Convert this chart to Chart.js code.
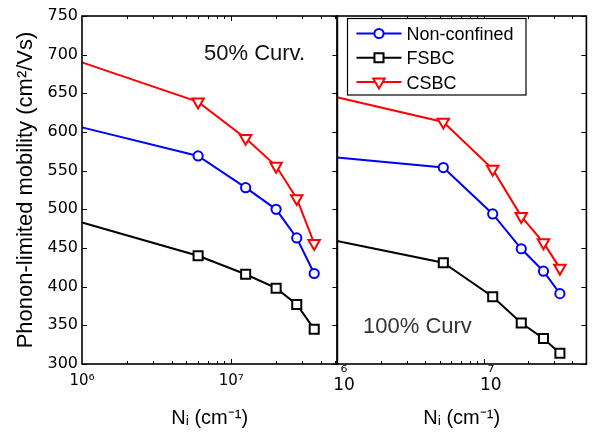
<!DOCTYPE html>
<html><head><meta charset="utf-8">
<script src="https://cdn.jsdelivr.net/npm/chart.js@4.4.1/dist/chart.umd.min.js"></script>
<style>
html,body{margin:0;padding:0;background:#fff;width:595px;height:435px;overflow:hidden}
canvas{position:absolute;top:0}
</style></head>
<body>
<canvas id="left" width="346" height="435" style="left:0"></canvas>
<canvas id="right" width="295" height="435" style="left:300px"></canvas>
<script>
// ---- data ----
const seriesNames = ['Non-confined', 'FSBC', 'CSBC'];
const xLeft = [1e6, 6.0e6, 1.25e7, 2.0e7, 2.75e7, 3.6e7];
const nonConfinedLeft = [606, 569, 528, 500, 463, 417];
const fsbcLeft = [483, 440, 416, 398, 377, 345];
const csbcLeft = [690, 639, 592, 556, 514, 456];
const xRight = [1e6, 5.3e6, 1.15e7, 1.8e7, 2.55e7, 3.3e7];
const nonConfinedRight = [567, 554, 494, 449, 420, 391];
const fsbcRight = [459, 431, 387, 353, 333, 314];
const csbcRight = [645, 613, 552, 491, 457, 424];
const yTickValues = [300, 350, 400, 450, 500, 550, 600, 650, 700, 750];
const xTickValues = [1e6, 2e6, 3e6, 4e6, 5e6, 6e6, 7e6, 8e6, 9e6, 1e7, 2e7, 3e7, 4e7, 5e7];
const xMajorTicks = [1e6, 1e7];
const xMajorLabelsLeft = ['10\u2076', '10\u2077'];
const xMajorLabelsRight = [['\u2076', '10'], ['\u2077', '10']];
const panelTitles = ['50% Curv.', '100% Curv'];
const yTitle = 'Phonon-limited mobility (cm\u00B2/Vs)';
const xTitle = 'N\u1D62 (cm\u207B\u00B9)';

// ---- styles ----
const colors = ['#0000ff', '#000000', '#ff0000'];
const markers = ['circle', 'rect', 'triangle'];
const radii = [4.6, 6.4, 6.6];
const rotations = [0, 0, 180];

Chart.defaults.color = '#000';
Chart.defaults.font.family = 'Liberation Sans, Arial, sans-serif';

function makeDatasets(xs, seriesList) {
  return seriesList.map((ys, i) => ({
    label: seriesNames[i],
    data: xs.map((x, k) => ({x: x, y: ys[k]})),
    borderColor: colors[i],
    backgroundColor: colors[i],
    borderWidth: 2,
    pointStyle: markers[i],
    pointRadius: xs.map((x, k) => k === 0 ? 0 : radii[i]),
    pointRotation: rotations[i],
    pointBorderWidth: 2,
    pointBorderColor: colors[i],
    pointBackgroundColor: '#ffffff',
    tension: 0,
    clip: false
  }));
}

const isMajor = v => xMajorTicks.some(m => Math.abs(m - v) / m < 1e-6);

const framePlugin = {
  id: 'frame',
  afterDatasetsDraw(chart, args, opts) {
    const {ctx, chartArea: a, scales} = chart;
    ctx.save();
    ctx.strokeStyle = '#000';
    ctx.lineWidth = 1;
    const seg = (x1, y1, x2, y2) => { ctx.beginPath(); ctx.moveTo(x1, y1); ctx.lineTo(x2, y2); ctx.stroke(); };
    scales.y.ticks.forEach(t => {
      const py = Math.round(scales.y.getPixelForValue(t.value)) + 0.5;
      if (opts.leftTicks) seg(a.left, py, a.left + 5, py);
      seg(a.right - 5, py, a.right, py);
    });
    scales.x.ticks.forEach(t => {
      const px = Math.round(scales.x.getPixelForValue(t.value)) + 0.5;
      if (px <= a.left + 1 || px >= a.right - 1) return;
      const len = isMajor(t.value) ? 5 : 3;
      seg(px, a.bottom, px, a.bottom - len);
      seg(px, a.top, px, a.top + len);
    });
    ctx.lineWidth = 1.6;
    ctx.strokeRect(a.left, a.top, a.right - a.left, a.bottom - a.top);
    // panel annotation
    ctx.fillStyle = opts.textColor || '#000';
    ctx.font = '22px "Liberation Sans", Arial, sans-serif';
    ctx.textBaseline = 'alphabetic';
    ctx.textAlign = 'left';
    ctx.fillText(opts.title, a.left + opts.titleDx, a.top + opts.titleDy);
    ctx.restore();
  }
};

const legendPlugin = {
  id: 'boxLegend',
  afterDraw(chart, args, opts) {
    if (!opts.show) return;
    const {ctx, chartArea: a} = chart;
    const bx = a.left + 10.5, by = a.top + 2.5, bw = 178.5, bh = 76.5;
    ctx.save();
    ctx.fillStyle = '#fff';
    ctx.fillRect(bx, by, bw, bh);
    ctx.strokeStyle = '#000';
    ctx.lineWidth = 1.2;
    ctx.strokeRect(bx, by, bw, bh);
    chart.data.datasets.forEach((ds, i) => {
      const y = by + 15 + i * 24.2;
      ctx.strokeStyle = ds.borderColor;
      ctx.lineWidth = 2;
      ctx.beginPath(); ctx.moveTo(bx + 9, y); ctx.lineTo(bx + 54, y); ctx.stroke();
      ctx.fillStyle = '#fff';
      ctx.strokeStyle = ds.borderColor;
      Chart.helpers.drawPoint(ctx, {pointStyle: ds.pointStyle, radius: radii[i], rotation: ds.pointRotation, borderWidth: 2}, bx + 31.5, y);
      ctx.fillStyle = '#000';
      ctx.font = '18px "Liberation Sans", Arial, sans-serif';
      ctx.textBaseline = 'alphabetic';
      ctx.textAlign = 'left';
      ctx.fillText(ds.label, bx + 59, y + 6.6);
    });
    ctx.restore();
  }
};

function makeChart(id, xs, seriesList, side) {
  const isLeft = side === 'left';
  return new Chart(document.getElementById(id), {
    type: 'line',
    data: {datasets: makeDatasets(xs, seriesList)},
    plugins: [framePlugin, legendPlugin],
    options: {
      responsive: false,
      animation: false,
      events: [],
      layout: {padding: {top: 16, right: isLeft ? 1 : 7, bottom: 0, left: 0}},
      plugins: {
        legend: {display: false},
        tooltip: {enabled: false},
        frame: {
          leftTicks: isLeft,
          title: isLeft ? panelTitles[0] : panelTitles[1],
          titleDx: isLeft ? 122 : 26,
          titleDy: isLeft ? 44 : 317,
          textColor: isLeft ? '#111' : '#333'
        },
        boxLegend: {show: !isLeft}
      },
      scales: {
        x: {
          type: 'logarithmic',
          min: 1e6,
          max: isLeft ? 5.15e7 : 5e7,
          grid: {display: false, drawTicks: false},
          border: {display: false},
          afterBuildTicks: s => { s.ticks = xTickValues.map(v => ({value: v})); },
          afterFit: s => { s.height = 71; },
          ticks: {
            autoSkip: false,
            maxRotation: 0,
            minRotation: 0,
            padding: isLeft ? 8 : 4,
            labelOffset: isLeft ? 0 : 7,
            font: isLeft ? {family: 'DejaVu Sans', size: 15, lineHeight: 1.2}
                         : {family: 'DejaVu Sans', size: 17, lineHeight: 0.7},
            callback: (v) => {
              const k = xMajorTicks.findIndex(m => Math.abs(m - v) / m < 1e-6);
              if (k < 0) return '';
              return isLeft ? xMajorLabelsLeft[k] : xMajorLabelsRight[k];
            }
          },
          title: {
            display: true,
            text: xTitle,
            font: {size: 20},
            padding: {top: 0, bottom: 5}
          }
        },
        y: {
          min: 300,
          max: 750,
          grid: {display: false, drawTicks: false},
          border: {display: false},
          afterBuildTicks: s => { s.ticks = yTickValues.map(v => ({value: v})); },
          afterFit: s => { s.width = isLeft ? 82 : 37; },
          ticks: {
            display: isLeft,
            padding: 4,
            font: {family: 'DejaVu Sans', size: 16}
          },
          title: {
            display: isLeft,
            text: yTitle,
            font: {size: 22},
            padding: {top: 13, bottom: 0}
          }
        }
      }
    }
  });
}

makeChart('left', xLeft, [nonConfinedLeft, fsbcLeft, csbcLeft], 'left');
makeChart('right', xRight, [nonConfinedRight, fsbcRight, csbcRight], 'right');
</script>
</body></html>
